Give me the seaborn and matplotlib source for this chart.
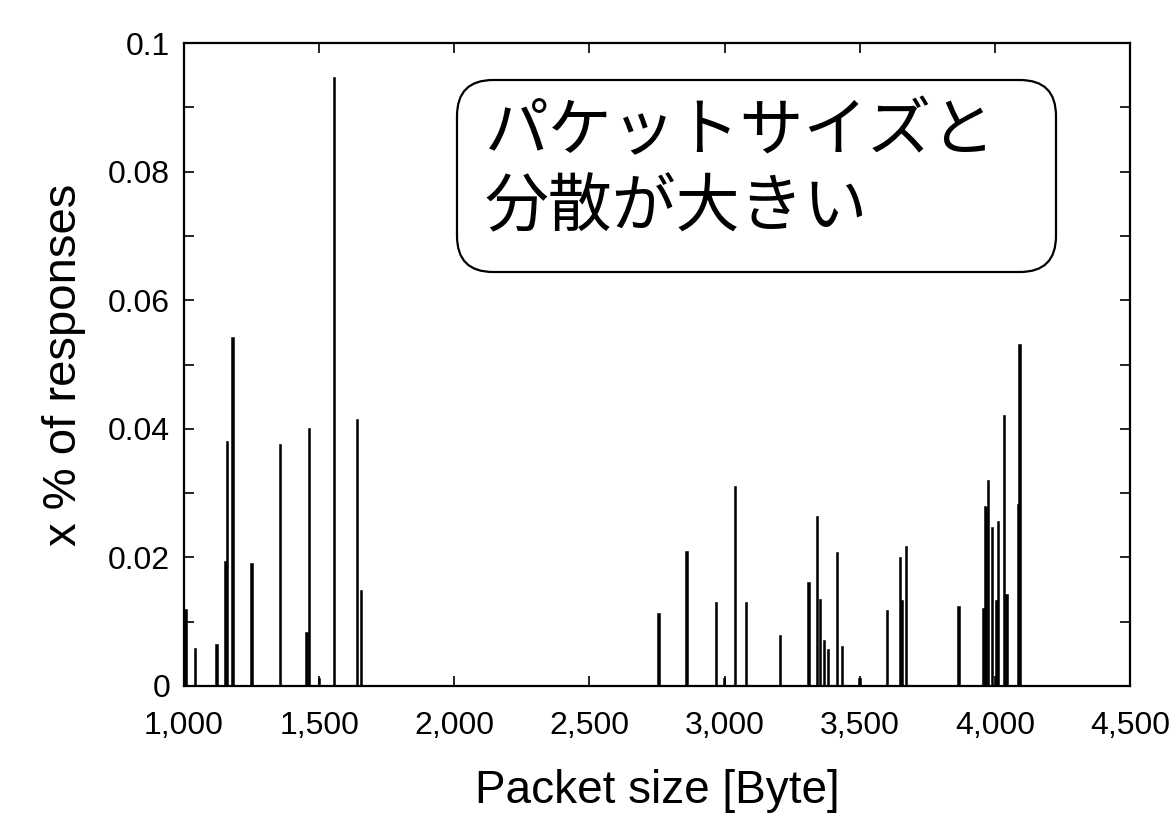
import numpy as np
import matplotlib
matplotlib.use("Agg")
import matplotlib.pyplot as plt
from matplotlib.patches import FancyBboxPatch
from matplotlib.transforms import IdentityTransform
from matplotlib.ticker import MultipleLocator, FixedLocator
import seaborn as sns

# Packet sizes [Byte] and fraction of responses at each size
packet_sizes = [1005, 1041, 1121, 1153, 1159, 1179, 1249, 1356, 1454, 1462,
                1500, 1556, 1640, 1654,
                2756, 2860, 2968, 2997, 3038, 3080, 3205, 3311, 3342, 3354,
                3368, 3383, 3416, 3434, 3500,
                3601, 3649, 3654, 3671, 3866, 3958, 3963, 3967, 3975, 3989,
                4006, 4012, 4034, 4044, 4086, 4091]
response_share = [0.0119, 0.0059, 0.0066, 0.0195, 0.0381, 0.0542, 0.0192, 0.0377, 0.0084, 0.0401,
                  0.0013, 0.0947, 0.0416, 0.0150,
                  0.0114, 0.0210, 0.0131, 0.0013, 0.0311, 0.0131, 0.0080, 0.0161, 0.0264, 0.0135,
                  0.0071, 0.0057, 0.0208, 0.0062, 0.0013,
                  0.0118, 0.0201, 0.0134, 0.0217, 0.0125, 0.0122, 0.0280, 0.0279, 0.0320, 0.0248,
                  0.0134, 0.0256, 0.0421, 0.0143, 0.0283, 0.0532]

x_ticks = [1000, 1500, 2000, 2500, 3000, 3500, 4000, 4500]
x_tick_labels = ["1,000", "1,500", "2,000", "2,500", "3,000", "3,500", "4,000", "4,500"]
y_ticks = [0, 0.02, 0.04, 0.06, 0.08, 0.1]
y_tick_labels = ["0", "0.02", "0.04", "0.06", "0.08", "0.1"]
note_text = "パケットサイズと\n分散が大きい"

sns.set_theme(style="ticks")
plt.rcParams["font.family"] = ["Liberation Sans", "DejaVu Sans"]
plt.rcParams["text.color"] = "black"
plt.rcParams["axes.labelcolor"] = "black"

fig = plt.figure(figsize=(11.69, 8.18), dpi=100)
ax = fig.add_axes([0.1574, 0.1614, 0.8092, 0.786])

# thin spike bars on the native numeric scale (about 9 bytes wide)
min_gap = np.min(np.diff(np.unique(packet_sizes)))
sns.barplot(x=packet_sizes, y=response_share, native_scale=True,
            width=9.0 / min_gap, color="black", saturation=1,
            edgecolor="black", linewidth=0.4, errorbar=None, ax=ax)

ax.set_xlim(1000, 4500)
ax.set_ylim(0, 0.1)
ax.xaxis.set_major_locator(FixedLocator(x_ticks))
ax.set_xticklabels(x_tick_labels)
ax.yaxis.set_major_locator(FixedLocator(y_ticks))
ax.set_yticklabels(y_tick_labels)
ax.yaxis.set_minor_locator(MultipleLocator(0.01))

for side in ["top", "right", "bottom", "left"]:
    ax.spines[side].set_visible(True)
    ax.spines[side].set_linewidth(1.6)
    ax.spines[side].set_color("black")

ax.tick_params(axis="both", which="both", direction="in", length=7, width=1.2,
               top=True, right=True, colors="black", labelcolor="black",
               labelsize=23)
ax.tick_params(axis="y", which="both", pad=10)
ax.tick_params(axis="x", which="both", pad=18)
ax.tick_params(axis="x", which="minor", bottom=False, top=False)

ax.set_xlabel("Packet size [Byte]", fontsize=33, labelpad=20)
ax.set_ylabel("x % of responses", fontsize=34, labelpad=16)

# rounded annotation box
box = FancyBboxPatch((457, 818 - 272), 599, 192,
                     boxstyle="round,pad=0,rounding_size=36",
                     transform=IdentityTransform(), facecolor="white",
                     edgecolor="black", linewidth=1.6, zorder=5)
fig.patches.append(box)
box.set_figure(fig)

fig.text(485 / 1169, (818 - 170) / 818, note_text, ha="left", va="center",
         fontsize=46, linespacing=1.18, zorder=6, color="black",
         family=["Noto Sans CJK JP", "DejaVu Sans"])

fig.savefig("out.png", dpi=100, facecolor="white")
